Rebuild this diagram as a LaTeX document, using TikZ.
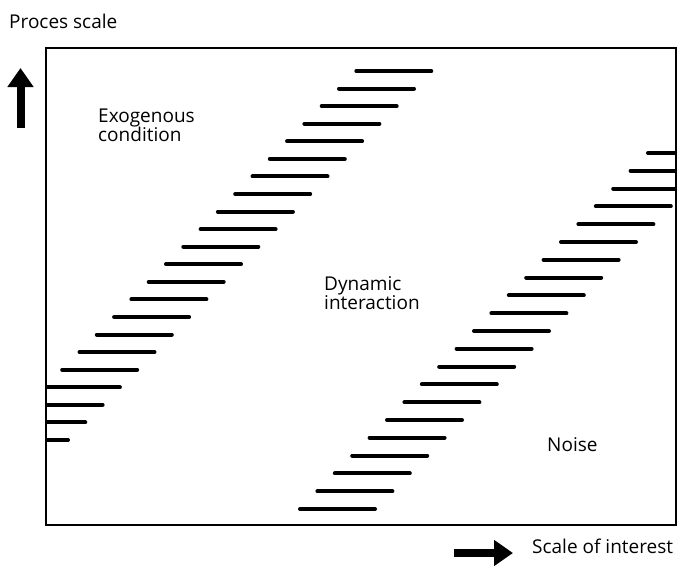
\documentclass[tikz,border=0pt]{standalone}
\usepackage{fontspec}
\setmainfont{Open Sans}
\usetikzlibrary{arrows.meta, positioning}
\tikzset{
  areatext/.style={font=\fontsize{19}{19}\selectfont, align=left, inner sep=0pt},
  axistext/.style={font=\fontsize{19}{19}\selectfont, inner sep=0pt},
  band/.style={line width=4pt, line cap=round},
  framebox/.style={line width=2.5pt},
  bigarrow/.style={-{Triangle[length=19pt,width=25pt]}, line width=8pt}
}
\begin{document}
\begin{tikzpicture}[x=1pt,y=-1pt]
  \useasboundingbox (0,0) rectangle (681,570);
  \draw[framebox] (46,48) rectangle (676,525);
  % bands of dashes
  \begin{scope}
    \clip (46,48) rectangle (676,525);
    \foreach \i in {0,...,21}
      \draw[band] ({-7+17.3*\i},{440-17.57*\i}) -- ++(75,0);
    \foreach \i in {0,...,20}
      \draw[band] ({300+17.4*\i},{509-17.8*\i}) -- ++(75,0);
  \end{scope}
  % texts
  \node[axistext, anchor=base west] (proc) at (9,28) {Proces scale};
  \node[areatext, anchor=base west] (exo) at (98,141) {Exogenous\\condition};
  \node[areatext, anchor=base west] (dyn) at (324,309) {Dynamic\\interaction};
  \node[areatext, anchor=base west] (noise) at (547,451) {Noise};
  \node[axistext, anchor=base west] (soi) at (532,553) {Scale of interest};
  % axis arrows
  \coordinate (up0) at (20.5,128);
  \coordinate (up1) at (20.5,68);
  \coordinate (rt0) at (454,553);
  \coordinate (rt1) at (513,553);
  \draw[bigarrow] (up0) -- (up1);
  \draw[bigarrow] (rt0) -- (rt1);
\end{tikzpicture}
\end{document}
